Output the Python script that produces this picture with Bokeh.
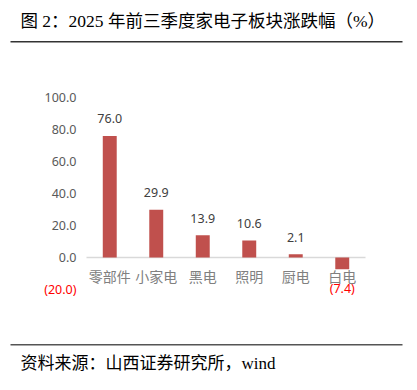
from bokeh.plotting import figure
from bokeh.models import Range1d, Label, ColumnDataSource, BoxAnnotation
from bokeh.core.properties import value
from bokeh.embed import file_html
from bokeh.resources import INLINE

# ---- data ----
categories = ["零部件", "小家电", "黑电", "照明", "厨电", "白电"]
changes = [76.0, 29.9, 13.9, 10.6, 2.1, -7.4]
y_ticks = [-20, 0, 20, 40, 60, 80, 100]
title_text = "图 2：2025 年前三季度家电子板块涨跌幅（%）"
source_text = "资料来源：山西证券研究所，wind"

# ---- layout (page pixels) ----
W, H = 412, 386
PLOT_L, PLOT_R = 86, 365      # horizontal extent of the category band
Y_TOP_PX, Y_BOT_PX = 97, 289  # pixel rows of the top and bottom tick
y_top_val, y_bot_val = max(y_ticks), min(y_ticks)

n = len(categories)
xpx = (PLOT_R - PLOT_L) / n                  # px per category
x0 = -0.5 - PLOT_L / xpx                     # data x at page left
x1 = x0 + W / xpx
ypx = (Y_BOT_PX - Y_TOP_PX) / (y_top_val - y_bot_val)
y1 = y_top_val + Y_TOP_PX / ypx              # data y at page top
y0 = y1 - H / ypx

p = figure(width=W, height=H, output_backend="svg", toolbar_location=None,
           x_range=Range1d(x0, x1), y_range=Range1d(y0, y1),
           min_border=0, min_border_left=0, min_border_right=0,
           min_border_top=0, min_border_bottom=0,
           outline_line_color=None, background_fill_color="white",
           border_fill_color="white")
p.axis.visible = False
p.grid.visible = False

xs = list(range(n))
labels = [f"{v:.1f}" if v >= 0 else f"({abs(v):.1f})" for v in changes]
pos = [v >= 0 for v in changes]
src = ColumnDataSource(dict(
    x=xs, cat=categories, val=changes, lab=labels,
    zero=[0] * n,
    col=["#404040" if b else "#FF0000" for b in pos],
    off=[-17 if b else 19 for b in pos],
))

# zero baseline
p.segment(x0=[-0.5], y0=[0], x1=[n - 0.5], y1=[0], line_color="#d9d9d9", line_width=1.5)

p.vbar(x="x", top="val", bottom=0, width=0.3, source=src,
       fill_color="#C0504D", line_color=None)

p.text(x="x", y="val", text="lab", source=src, text_align="center",
       text_baseline="middle", y_offset="off", text_color="col",
       text_font=value("Noto Sans"), text_font_size="12.5px")
p.text(x="x", y="zero", text="cat", source=src, text_align="center",
       text_baseline="middle", y_offset=18, text_color="#808080",
       text_font=value("Noto Sans CJK SC"), text_font_size="14px")

# value-axis tick labels
tick_src = ColumnDataSource(dict(
    x=[-0.5] * len(y_ticks), y=y_ticks,
    t=[f"{v:.1f}" if v >= 0 else f"({abs(v):.1f})" for v in y_ticks],
    c=["#595959" if v >= 0 else "#FF0000" for v in y_ticks],
))
p.text(x="x", y="y", text="t", source=tick_src, text_align="right",
       text_baseline="middle", x_offset=-10, text_color="c",
       text_font=value("Noto Sans"), text_font_size="12.5px")

# title, source and rules (screen units: from bottom-left of canvas)
p.add_layout(Label(x=20, x_units="screen", y=H - 20, y_units="screen",
                   text=title_text, text_align="left", text_baseline="middle",
                   text_color="black", text_font="Liberation Serif, Noto Sans CJK SC",
                   text_font_size="17.5px"))
p.add_layout(Label(x=20, x_units="screen", y=H - 363, y_units="screen",
                   text=source_text, text_align="left", text_baseline="middle",
                   text_color="black", text_font="Liberation Serif, Noto Sans CJK SC",
                   text_font_size="17px"))
p.add_layout(BoxAnnotation(left=10, right=402, top=H - 40.5, bottom=H - 42,
                           left_units="screen", right_units="screen",
                           top_units="screen", bottom_units="screen",
                           fill_color="#333333", fill_alpha=1, line_color=None))
p.add_layout(BoxAnnotation(left=10, right=402, top=H - 343.5, bottom=H - 345,
                           left_units="screen", right_units="screen",
                           top_units="screen", bottom_units="screen",
                           fill_color="#555555", fill_alpha=1, line_color=None))

open("out.html", "w").write(file_html(p, INLINE))
